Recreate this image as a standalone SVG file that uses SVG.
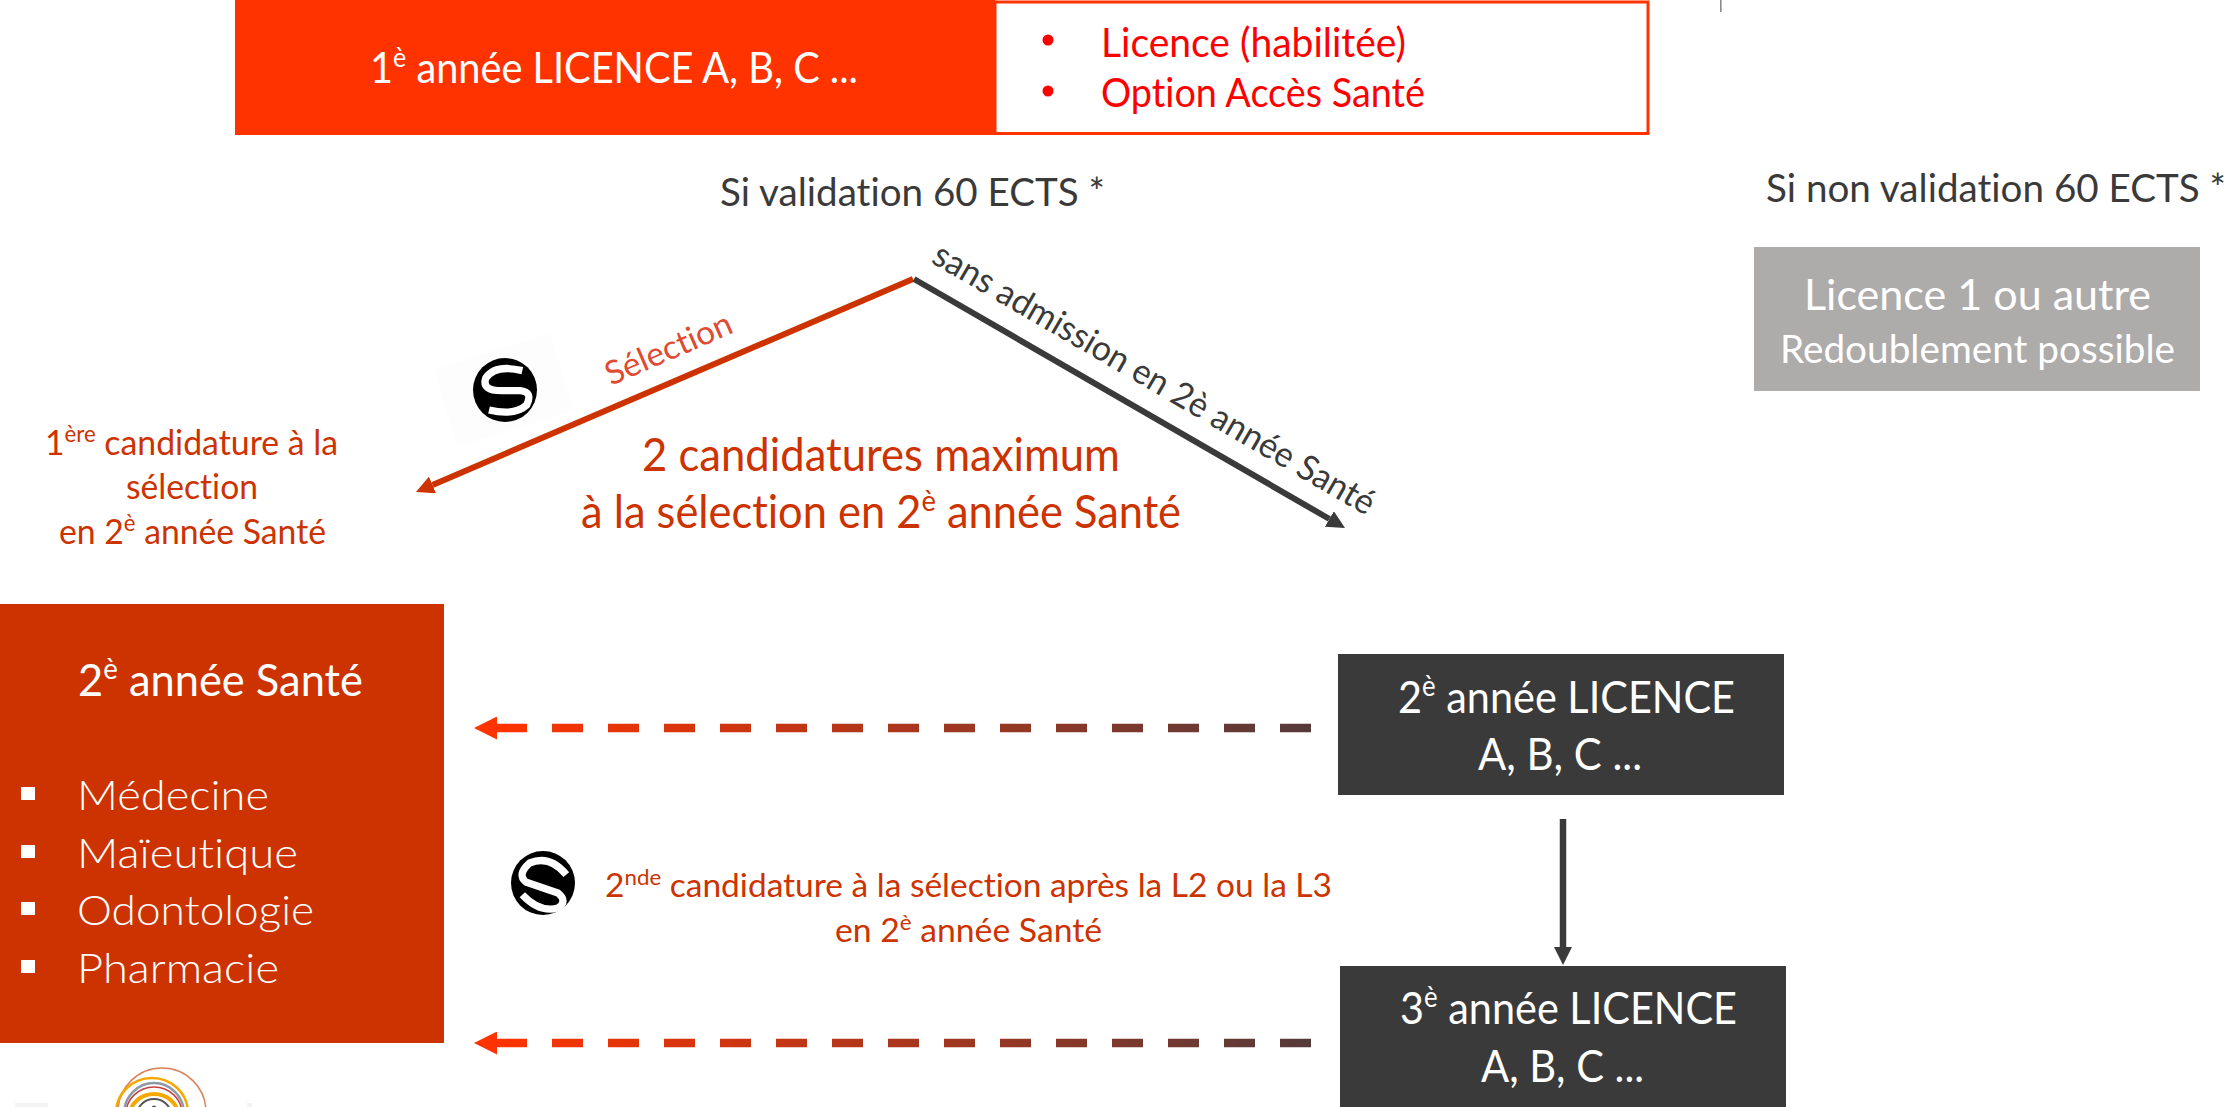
<svg xmlns="http://www.w3.org/2000/svg" width="2233" height="1107" viewBox="0 0 2233 1107">
<style>
text{font-family:"Lato","Noto Sans",sans-serif;font-variant-ligatures:none;}
.w{fill:#fff}.r{fill:#cc3300}.d{fill:#3a3a3a}.rr{fill:#ff0000}
.flow{fill:none}
.ring{fill:none}
</style>
<defs>
<linearGradient id="dashGrad" gradientUnits="userSpaceOnUse" x1="497" y1="0" x2="1311" y2="0"><stop offset="0" stop-color="#ff3300"/><stop offset="1" stop-color="#553a3a"/></linearGradient>
<marker id="hRed" viewBox="0 0 18 18" refX="0" refY="9" markerWidth="18" markerHeight="18" markerUnits="userSpaceOnUse" orient="auto"><path d="M0,0L18,9L0,18z" fill="#cc3300"/></marker>
<marker id="hDark" viewBox="0 0 18 18" refX="0" refY="9" markerWidth="18" markerHeight="18" markerUnits="userSpaceOnUse" orient="auto"><path d="M0,0L18,9L0,18z" fill="#3a3a3a"/></marker>
<marker id="hOrange" viewBox="0 0 23 23" refX="0" refY="11.5" markerWidth="23" markerHeight="23" markerUnits="userSpaceOnUse" orient="auto"><path d="M0,0L23,11.5L0,23z" fill="#ff3300"/></marker>
</defs>
<rect width="2233" height="1107" fill="#fff"/>
<g id="connectors" class="flow">
<line x1="913" y1="279" x2="432.5" y2="484.9" stroke="#cc3300" stroke-width="6" marker-end="url(#hRed)"/>
<line x1="914" y1="279" x2="1329.4" y2="519" stroke="#3a3a3a" stroke-width="6" marker-end="url(#hDark)"/>
<line x1="1311" y1="728" x2="497" y2="728.01" stroke="url(#dashGrad)" stroke-width="8.500" stroke-dasharray="31 25" marker-end="url(#hOrange)"/>
<line x1="1311" y1="1043" x2="497" y2="1043.01" stroke="url(#dashGrad)" stroke-width="8.500" stroke-dasharray="31 25" marker-end="url(#hOrange)"/>
<line x1="1563" y1="819" x2="1563" y2="947" stroke="#3a3a3a" stroke-width="6.500" marker-end="url(#hDark)"/>
</g>
<g id="tick"><rect x="1720" y="0" width="1.600" height="12" fill="#8a8a8a"/></g>
<g id="node-l1">
<rect x="235" y="0" width="760" height="135" fill="#ff3300"/>
<text x="370" y="83" font-size="43" class="w" textLength="488" lengthAdjust="spacingAndGlyphs">1<tspan font-size="27" dy="-16">è</tspan><tspan dy="16"> année LICENCE A, B, C ...</tspan></text>
</g>
<g id="node-options">
<rect x="995" y="2" width="653" height="131.500" fill="#fff" stroke="#ff3300" stroke-width="3"/>
<circle cx="1048" cy="40" r="5.500" class="rr"/>
<circle cx="1048" cy="91" r="5.500" class="rr"/>
<text x="1101" y="57" font-size="40" class="rr" textLength="305" lengthAdjust="spacingAndGlyphs">Licence (habilitée)</text>
<text x="1101" y="107" font-size="40" class="rr" textLength="324" lengthAdjust="spacingAndGlyphs">Option Accès Santé</text>
</g>
<g id="label-validation"><text x="720" y="206" font-size="38" class="d" textLength="385" lengthAdjust="spacingAndGlyphs">Si validation 60 ECTS *</text></g>
<g id="label-non-validation"><text x="1766" y="202" font-size="38" class="d" textLength="460" lengthAdjust="spacingAndGlyphs">Si non validation 60 ECTS *</text></g>
<g id="node-redoublement">
<rect x="1754" y="247" width="446" height="144" fill="#aeabab"/>
<text x="1804" y="310" font-size="43" class="w" textLength="347" lengthAdjust="spacingAndGlyphs">Licence 1 ou autre</text>
<text x="1780" y="363" font-size="38" class="w" textLength="395" lengthAdjust="spacingAndGlyphs">Redoublement possible</text>
</g>
<g id="icon-s1">
<rect x="443" y="349.500" width="122" height="81" transform="rotate(-17.4 504 390)" fill="#fdfdfd"/>
<circle cx="505" cy="390" r="32" fill="#000"/>
<path transform="translate(465 350) scale(.3333)" d="M172,62Q90,42 62,85Q50,122 110,122L165,122Q205,125 185,165Q150,198 72,180" fill="none" stroke="#fff" stroke-width="22"/>
</g>
<g id="label-selection"><text transform="translate(611 386) rotate(-23.500)" font-size="33" fill="#e04a30" textLength="135" lengthAdjust="spacingAndGlyphs">Sélection</text></g>
<g id="label-sans-admission"><text transform="translate(930 262) rotate(30.200)" font-size="35" class="d" textLength="505" lengthAdjust="spacingAndGlyphs">sans admission en 2è année Santé</text></g>
<g id="label-premiere">
<text x="45" y="455" font-size="35" class="r" textLength="293" lengthAdjust="spacingAndGlyphs">1<tspan font-size="23" dy="-13">ère</tspan><tspan dy="13"> candidature à la</tspan></text>
<text x="126" y="499" font-size="35" class="r" textLength="132" lengthAdjust="spacingAndGlyphs">sélection</text>
<text x="59" y="544" font-size="35" class="r" textLength="267" lengthAdjust="spacingAndGlyphs">en 2<tspan font-size="23" dy="-13">è</tspan><tspan dy="13"> année Santé</tspan></text>
</g>
<g id="label-max">
<text x="642" y="471" font-size="46" class="r" textLength="478" lengthAdjust="spacingAndGlyphs">2 candidatures maximum</text>
<text x="581" y="528" font-size="46" class="r" textLength="600" lengthAdjust="spacingAndGlyphs">à la sélection en 2<tspan font-size="29" dy="-17">è</tspan><tspan dy="17"> année Santé</tspan></text>
</g>
<g id="node-sante">
<rect x="0" y="604" width="444" height="439" fill="#cc3300"/>
<text x="78" y="696" font-size="44" class="w" textLength="285" lengthAdjust="spacingAndGlyphs">2<tspan font-size="28" dy="-17">è</tspan><tspan dy="17"> année Santé</tspan></text>
<rect x="21" y="787" width="14" height="13" class="w"/>
<rect x="21" y="845" width="14" height="13" class="w"/>
<rect x="21" y="902" width="14" height="13" class="w"/>
<rect x="21" y="960" width="14" height="13" class="w"/>
<text x="77" y="810" font-size="42" font-weight="300" class="w" textLength="192" lengthAdjust="spacingAndGlyphs">Médecine</text>
<text x="77" y="868" font-size="42" font-weight="300" class="w" textLength="221" lengthAdjust="spacingAndGlyphs">Maïeutique</text>
<text x="77" y="925" font-size="42" font-weight="300" class="w" textLength="237" lengthAdjust="spacingAndGlyphs">Odontologie</text>
<text x="77" y="983" font-size="42" font-weight="300" class="w" textLength="202" lengthAdjust="spacingAndGlyphs">Pharmacie</text>
</g>
<g id="node-l2">
<rect x="1338" y="654" width="446" height="141" fill="#3a3a3a"/>
<text x="1398" y="713" font-size="45" class="w" textLength="337" lengthAdjust="spacingAndGlyphs">2<tspan font-size="28" dy="-17">è</tspan><tspan dy="17"> année LICENCE</tspan></text>
<text x="1478" y="770" font-size="45" class="w" textLength="164" lengthAdjust="spacingAndGlyphs">A, B, C ...</text>
</g>
<g id="node-l3">
<rect x="1340" y="966" width="446" height="141" fill="#3a3a3a"/>
<text x="1400" y="1024" font-size="45" class="w" textLength="337" lengthAdjust="spacingAndGlyphs">3<tspan font-size="28" dy="-17">è</tspan><tspan dy="17"> année LICENCE</tspan></text>
<text x="1481" y="1082" font-size="45" class="w" textLength="163" lengthAdjust="spacingAndGlyphs">A, B, C ...</text>
</g>
<g id="icon-s2">
<circle cx="543" cy="883" r="32" fill="#000"/>
<path transform="translate(503 843) scale(.3333)" d="M190,95Q140,35 80,60Q40,95 70,118L165,150Q195,175 165,195Q110,210 58,155" fill="none" stroke="#fff" stroke-width="22"/>
</g>
<g id="label-seconde">
<text x="605" y="897" font-size="33" class="r" textLength="727" lengthAdjust="spacingAndGlyphs">2<tspan font-size="22" dy="-12">nde</tspan><tspan dy="12"> candidature à la sélection après la L2 ou la L3</tspan></text>
<text x="835" y="942" font-size="33" class="r" textLength="267" lengthAdjust="spacingAndGlyphs">en 2<tspan font-size="22" dy="-12">è</tspan><tspan dy="12"> année Santé</tspan></text>
</g>
<g id="logo" class="ring">
<circle cx="162" cy="1112" r="44" stroke="#d9825a" stroke-width="1.500"/>
<ellipse cx="152" cy="1113" rx="36" ry="35" stroke="#f5a800" stroke-width="2.500"/>
<ellipse cx="154" cy="1114" rx="30" ry="31" stroke="#8d9aa8" stroke-width="2.500"/>
<ellipse cx="154" cy="1114" rx="28" ry="27" stroke="#c2413f" stroke-width="1.500"/>
<ellipse cx="154" cy="1115" rx="24" ry="21" stroke="#f5a800" stroke-width="4"/>
<ellipse cx="154" cy="1115" rx="17" ry="16" stroke="#555" stroke-width="2"/>
<circle cx="154" cy="1108" r="2.500" fill="#555"/>
<rect x="15" y="1103" width="33" height="4" fill="#f3f3f3"/>
<rect x="247" y="1103" width="5" height="4" fill="#f3f3f3"/>
</g>
</svg>
